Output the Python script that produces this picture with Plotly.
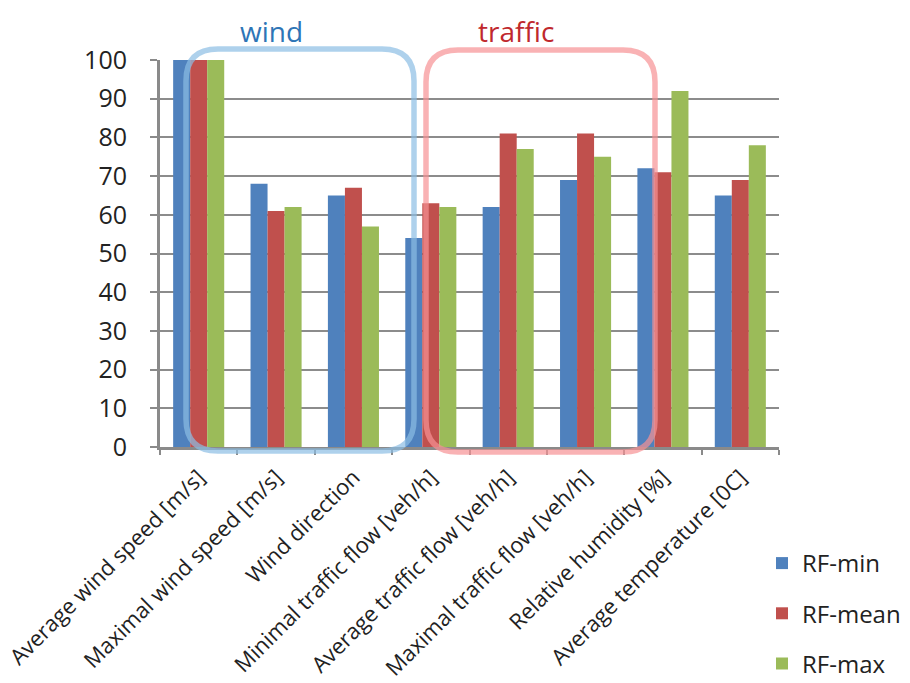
import plotly.graph_objects as go

categories = [
    "Average wind speed [m/s]",
    "Maximal wind speed [m/s]",
    "Wind direction",
    "Minimal traffic flow [veh/h]",
    "Average traffic flow [veh/h]",
    "Maximal traffic flow [veh/h]",
    "Relative humidity [%]",
    "Average temperature [0C]",
]
rf_min = [100, 68, 65, 54, 62, 69, 72, 65]
rf_mean = [100, 61, 67, 63, 81, 81, 71, 69]
rf_max = [100, 62, 57, 62, 77, 75, 92, 78]
y_ticks = [0, 10, 20, 30, 40, 50, 60, 70, 80, 90, 100]

FONT = "Open Sans"
W, H = 910, 683
ML, MR, MT, MB = 160, 131, 60, 236
PW, PH = W - ML - MR, H - MT - MB

fig = go.Figure()
series = [("RF-min", rf_min, "#4f81bd"), ("RF-mean", rf_mean, "#c0504d"), ("RF-max", rf_max, "#9bbb59")]
for name, vals, col in series:
    fig.add_trace(go.Bar(x=categories, y=vals, name=name, marker_color=col,
                         marker_line_width=0, legendgroup=name))


def px_x(p):
    return (p - ML) / PW


def px_y(p):
    return (H - MB - p) / PH


def rounded_rect(x0, y0, x1, y1, r):
    X0, X1 = px_x(x0), px_x(x1)
    Y0, Y1 = px_y(y0), px_y(y1)
    rx, ry = r / PW, r / PH
    return (f"M {X0+rx},{Y0} L {X1-rx},{Y0} Q {X1},{Y0} {X1},{Y0-ry} "
            f"L {X1},{Y1+ry} Q {X1},{Y1} {X1-rx},{Y1} L {X0+rx},{Y1} "
            f"Q {X0},{Y1} {X0},{Y1+ry} L {X0},{Y0-ry} Q {X0},{Y0} {X0+rx},{Y0} Z")


shapes = [
    dict(type="path", xref="paper", yref="paper", path=rounded_rect(186, 49, 414, 451, 32),
         line=dict(color="rgba(140,190,228,0.7)", width=5.5), layer="above"),
    dict(type="path", xref="paper", yref="paper", path=rounded_rect(426, 50, 655, 452, 32),
         line=dict(color="rgba(246,145,148,0.7)", width=5.5), layer="above"),
]

annotations = [
    dict(text="wind", xref="paper", yref="paper", x=px_x(271), y=px_y(31), showarrow=False,
         font=dict(family=FONT, size=28, color="#2e75b6"), xanchor="center", yanchor="middle"),
    dict(text="traffic", xref="paper", yref="paper", x=px_x(516), y=px_y(31), showarrow=False,
         font=dict(family=FONT, size=28, color="#c0282d"), xanchor="center", yanchor="middle"),
]

fig.update_layout(
    width=W, height=H,
    margin=dict(l=ML, r=MR, t=MT, b=MB, pad=0, autoexpand=False),
    paper_bgcolor="white", plot_bgcolor="white",
    barmode="group", bargap=0.34, bargroupgap=0,
    font=dict(family=FONT, color="#222222"),
    shapes=shapes, annotations=annotations,
    legend=dict(x=px_x(762), xanchor="left", y=px_y(541), yanchor="top",
                font=dict(family=FONT, size=24, color="#222222"),
                tracegroupgap=16, traceorder="grouped", bgcolor="rgba(0,0,0,0)"),
    xaxis=dict(tickangle=-45, tickfont=dict(family=FONT, size=22, color="#222222"),
               showline=True, linecolor="#8a8a8a", linewidth=2.5, automargin=False,
               ticks="outside", tickson="boundaries", ticklen=5, tickcolor="#8a8a8a",
               tickwidth=1.5, showgrid=False, fixedrange=True, ticklabelstandoff=6),
    yaxis=dict(range=[0, 100], tickvals=y_ticks, tickfont=dict(family=FONT, size=25, color="#222222"),
               showline=True, linecolor="#8a8a8a", linewidth=3, automargin=False,
               ticks="outside", ticklen=7, tickcolor="#8a8a8a", tickwidth=2,
               showgrid=True, gridcolor="#8c8c8c", gridwidth=2, zeroline=False,
               ticklabelstandoff=18, fixedrange=True),
)

fig.write_html("out.html")
